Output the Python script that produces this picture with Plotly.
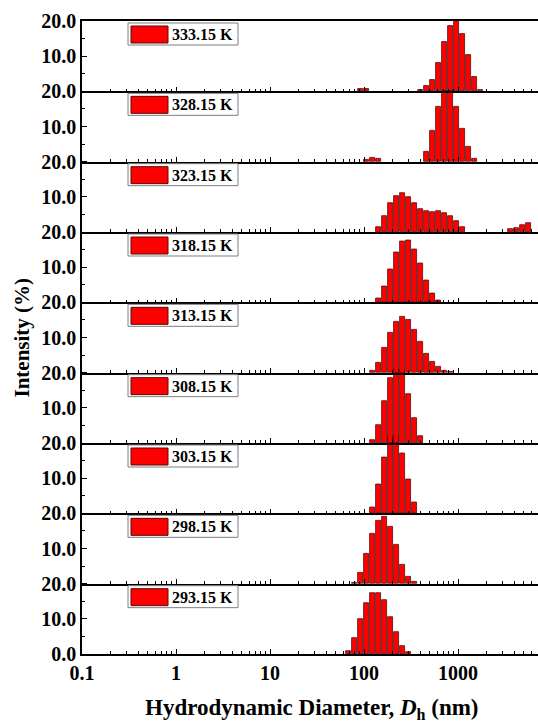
import numpy as np
import plotly.graph_objects as go

# Hydrodynamic diameter size classes (nm)
size_bins = [68.06, 78.82, 91.28, 105.7, 122.4, 141.8, 164.2, 190.1, 220.2, 255.0,
             295.3, 342.0, 396.1, 458.7, 531.2, 615.1, 712.4, 825.0, 955.4, 1106,
             1281, 1484, 1718, 1990, 2305, 2669, 3091, 3580, 4145, 4801, 5560]

temperatures = ["293.15 K", "298.15 K", "303.15 K", "308.15 K", "313.15 K",
                "318.15 K", "323.15 K", "328.15 K", "333.15 K"]

# Intensity (%) per size class
int_293 = [0.9, 4.6, 9.8, 14.4, 17.4, 17.4, 15.2, 10.6, 6.1, 2.3, 0.4, 0, 0, 0, 0, 0,
           0, 0, 0, 0, 0, 0, 0, 0, 0, 0, 0, 0, 0, 0, 0]
int_298 = [0, 0.3, 3.1, 8.5, 14.2, 18.0, 18.9, 16.1, 11.1, 5.5, 1.9, 0.5, 0, 0, 0, 0,
           0, 0, 0, 0, 0, 0, 0, 0, 0, 0, 0, 0, 0, 0, 0]
int_303 = [0, 0, 0, 0, 1.8, 8.2, 16.0, 22.0, 22.2, 17.0, 9.6, 3.0, 0, 0, 0, 0,
           0, 0, 0, 0, 0, 0, 0, 0, 0, 0, 0, 0, 0, 0, 0]
int_308 = [0, 0, 0, 0, 0.8, 5.0, 12.0, 18.4, 21.0, 20.6, 13.8, 7.0, 1.9, 0, 0, 0,
           0, 0, 0, 0, 0, 0, 0, 0, 0, 0, 0, 0, 0, 0, 0]
int_313 = [0, 0, 0, 0, 0.4, 2.8, 7.2, 11.4, 14.6, 15.9, 14.9, 12.3, 8.8, 5.4, 3.0, 1.6,
           0.6, 0.3, 0, 0, 0, 0, 0, 0, 0, 0, 0, 0, 0, 0, 0]
int_318 = [0, 0, 0, 0, 0, 1.1, 4.4, 9.3, 14.2, 17.2, 17.7, 15.1, 11.0, 6.3, 2.5, 0.5,
           0, 0, 0, 0, 0, 0, 0, 0, 0, 0, 0, 0, 0, 0, 0]
int_323 = [0, 0, 0, 0, 0, 1.5, 4.6, 8.1, 10.3, 11.0, 9.8, 8.1, 6.6, 5.8, 5.7, 5.9,
           5.5, 4.5, 3.1, 1.5, 0, 0, 0, 0, 0, 0, 0, 0.8, 1.2, 2.1, 2.5]
int_328 = [0, 0, 0, 0.6, 1.2, 0.9, 0, 0, 0, 0, 0, 0, 0, 2.7, 8.9, 15.5,
           20.3, 20.3, 15.5, 9.4, 4.2, 0.9, 0, 0, 0, 0, 0, 0, 0, 0, 0]
int_333 = [0, 0, 0.6, 0.6, 0, 0, 0, 0, 0, 0, 0, 0, 0.4, 1.4, 3.1, 8.0,
           14.0, 18.7, 20.2, 16.4, 10.4, 4.1, 0.4, 0, 0, 0, 0, 0, 0, 0, 0]

series = [int_293, int_298, int_303, int_308, int_313, int_318, int_323, int_328, int_333]

x_tick_labels = ["0.1", "1", "10", "100", "1000"]
y_tick_labels = ["0.0", "10.0", "20.0"]

# ---------------------------------------------------------------- layout geometry
W, H = 538, 723
ML, MR, MT, MB = 82, 0, 21, 69
PW, PH = W - ML - MR, H - MT - MB
n = len(series)
decade_px = 94.0
x_lo = -1.0
x_hi = x_lo + PW / decade_px
bar_w = np.log10(1.1582) * 0.84
ext = 0.15  # fraction of panel height bars may overflow into the panel above

FONT = "Liberation Serif"
logx = np.log10(np.array(size_bins, dtype=float))

major_x = [np.log10(float(t)) for t in x_tick_labels]
minor_x = [np.log10(m * 10.0 ** e) for e in range(-1, 4) for m in range(2, 10)
           if np.log10(m * 10.0 ** e) < x_hi]

fig = go.Figure()
layout = dict(
    width=W, height=H,
    margin=dict(l=ML, r=MR, t=MT, b=MB),
    paper_bgcolor="white", plot_bgcolor="rgba(0,0,0,0)",
    showlegend=False,
    bargap=0,
)
shapes, annotations = [], []

for k, vals in enumerate(series):
    idx = "" if k == 0 else str(k + 1)
    vals = np.array(vals, dtype=float)
    mask = vals > 0
    fig.add_trace(go.Bar(
        x=logx[mask], y=vals[mask], width=bar_w,
        marker=dict(color="#FF0000", line=dict(color="#5A0A0A", width=0.8)),
        xaxis="x" + idx, yaxis="y" + idx, name=temperatures[k],
    ))
    d0 = k / n
    top = (k + 1) / n
    if k < n - 1:
        d1 = top + ext / n
        yr = [0, 20 * (1 + ext)]
    else:
        d1 = top
        yr = [0, 20]
    tv = [0, 10, 20] if k == 0 else [10, 20]
    tt = y_tick_labels if k == 0 else y_tick_labels[1:]
    layout["xaxis" + idx] = dict(
        domain=[0, 1], anchor="y" + idx, range=[x_lo, x_hi], type="linear",
        showline=True, linecolor="black", linewidth=1.6,
        mirror=(k == n - 1),
        ticks="inside", ticklen=5, tickwidth=1.4, tickcolor="black",
        tickmode="array", tickvals=major_x, ticktext=x_tick_labels,
        showticklabels=(k == 0),
        tickfont=dict(family=FONT, size=20, color="black", weight="bold"),
        minor=dict(tickmode="array", tickvals=minor_x, ticks="inside",
                   ticklen=3, tickwidth=1.2, tickcolor="black"),
        showgrid=False, zeroline=False, fixedrange=True,
    )
    layout["yaxis" + idx] = dict(
        domain=[d0, d1], anchor="x" + idx, range=yr,
        showline=True, linecolor="black", linewidth=1.6,
        ticks="inside", ticklen=5, tickwidth=1.4, tickcolor="black",
        tickmode="array", tickvals=tv, ticktext=tt,
        tickfont=dict(family=FONT, size=20, color="black", weight="bold"),
        minor=dict(tickmode="array", tickvals=[5, 15], ticks="inside",
                   ticklen=3, tickwidth=1.2, tickcolor="black"),
        showgrid=False, zeroline=False, fixedrange=True,
    )
    # legend box for this panel
    py = lambda px: top - px / PH
    pxx = lambda px: (px - ML) / PW
    shapes.append(dict(type="rect", xref="paper", yref="paper",
                       x0=pxx(128), x1=pxx(238), y0=py(24), y1=py(2),
                       fillcolor="white", line=dict(color="#7F7F7F", width=1),
                       layer="above"))
    shapes.append(dict(type="rect", xref="paper", yref="paper",
                       x0=pxx(131), x1=pxx(168), y0=py(22), y1=py(5),
                       fillcolor="#FF0000", line=dict(color="#5A0A0A", width=1),
                       layer="above"))
    annotations.append(dict(xref="paper", yref="paper", x=pxx(170), y=py(13.5),
                            xanchor="left", yanchor="middle", showarrow=False,
                            text=temperatures[k],
                            font=dict(family=FONT, size=16, color="black", weight="bold")))

annotations.append(dict(xref="paper", yref="paper", x=(312 - ML) / PW, y=-39 / PH,
                        xanchor="center", yanchor="top", showarrow=False,
                        text="Hydrodynamic Diameter, <i>D</i><sub>h</sub> (nm)",
                        font=dict(family=FONT, size=23, color="black", weight="bold")))
annotations.append(dict(xref="paper", yref="paper", x=(21 - ML) / PW, y=0.5,
                        xanchor="center", yanchor="middle", showarrow=False,
                        textangle=-90, text="Intensity (%)",
                        font=dict(family=FONT, size=21, color="black", weight="bold")))

layout["shapes"] = shapes
layout["annotations"] = annotations
fig.update_layout(**layout)
fig.write_html("out.html")
